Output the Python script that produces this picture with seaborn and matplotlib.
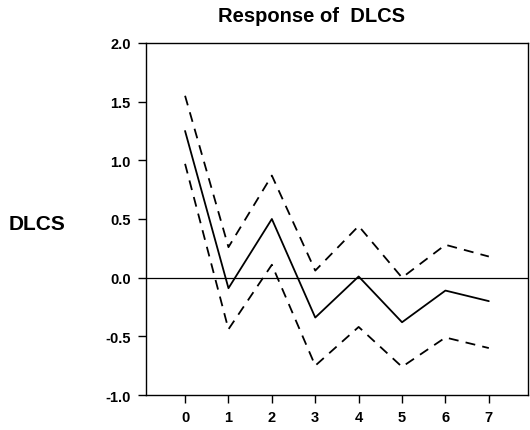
import matplotlib
matplotlib.use("Agg")
import matplotlib.pyplot as plt
import seaborn as sns
import pandas as pd

periods = [0, 1, 2, 3, 4, 5, 6, 7]
response = [1.25, -0.09, 0.50, -0.34, 0.01, -0.38, -0.11, -0.20]
upper_band = [1.55, 0.26, 0.87, 0.06, 0.44, 0.00, 0.28, 0.18]
lower_band = [0.97, -0.44, 0.11, -0.75, -0.42, -0.76, -0.51, -0.60]
y_ticks = [-1.0, -0.5, 0.0, 0.5, 1.0, 1.5, 2.0]

sns.set_style("ticks")
plt.rcParams['font.family'] = ['Liberation Sans', 'DejaVu Sans']
plt.rcParams['axes.unicode_minus'] = False
plt.rcParams['text.color'] = 'black'

df = pd.DataFrame({"period": periods, "response": response,
                   "upper": upper_band, "lower": lower_band})

fig = plt.figure(figsize=(5.3, 4.31), dpi=100)
ax = fig.add_axes([0.2755, 0.0812, 0.7205, 0.8168])

sns.lineplot(data=df, x="period", y="response", ax=ax, color="black", linewidth=1.3)
for col in ["upper", "lower"]:
    sns.lineplot(data=df, x="period", y=col, ax=ax, color="black", linewidth=1.3,
                 linestyle=(0, (5.5, 4)))
ax.axhline(0, color="black", linewidth=0.9)

ax.set_xlim(-0.9, 7.9)
ax.set_ylim(-1.0, 2.0)
ax.set_xticks(periods)
ax.set_xticklabels([str(p) for p in periods], fontsize=10.5, fontweight="bold", color="black")
ax.set_yticks(y_ticks)
ax.set_yticklabels([f"{v:.1f}" for v in y_ticks], fontsize=10.5, fontweight="bold", color="black")
ax.set_xlabel("")
ax.set_ylabel("")
for s in ax.spines.values():
    s.set_color("black")
    s.set_linewidth(1.0)
ax.tick_params(direction="out", length=6, width=1, colors="black", pad=5)

fig.text(312 / 530, 1 - 17 / 431, "Response of  DLCS", ha="center", va="center",
         fontsize=14.5, fontweight="bold", color="black")
fig.text(37 / 530, 1 - 225 / 431, "DLCS", ha="center", va="center",
         fontsize=15, fontweight="bold", color="black")

fig.savefig("out.png", dpi=100)
